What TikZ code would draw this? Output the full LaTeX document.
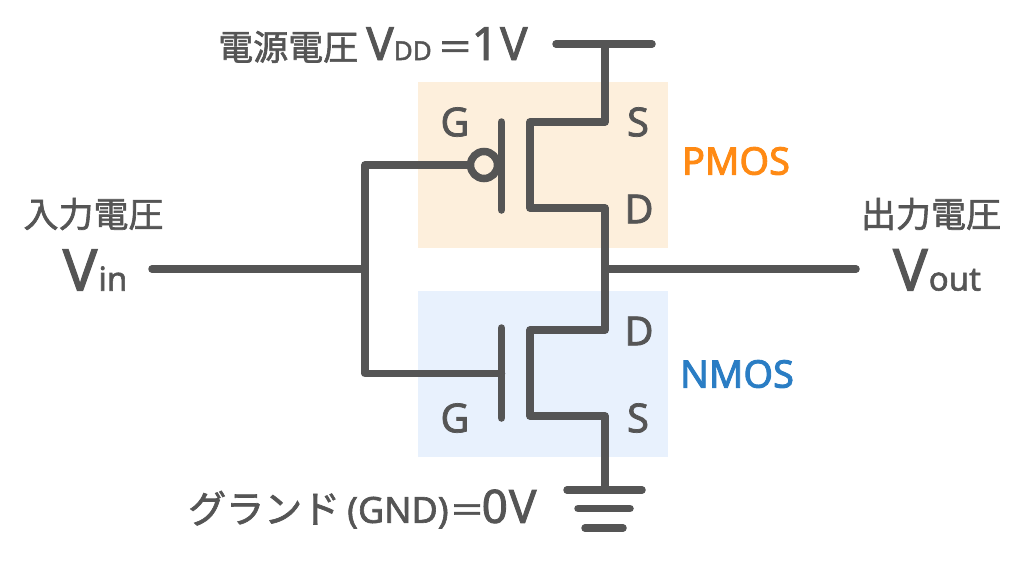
\documentclass[tikz,border=0pt]{standalone}
\usepackage{fontspec}
\setmainfont{Noto Sans}[FakeBold=1.8]
\newfontfamily\jpfont{Noto Sans CJK JP}[FakeBold=1.8]
\newfontfamily\kindfont{Noto Sans}[FakeBold=2.4]
\definecolor{ink}{HTML}{555555}
\definecolor{pmosfill}{HTML}{FDEFDC}
\definecolor{nmosfill}{HTML}{E8F1FD}
\definecolor{pmostext}{HTML}{FF8A14}
\definecolor{nmostext}{HTML}{2A7DC4}
\tikzset{
  wire/.style={draw=ink,line width=7.5pt,line cap=round,line join=round},
  band/.style={fill=#1,draw=none,minimum width=250pt,minimum height=166pt,inner sep=0pt},
  pin/.style={text=ink,font=\fontsize{40}{40}\selectfont,inner sep=0pt},
  caption/.style={text=ink,font=\jpfont\fontsize{35}{35}\selectfont,inner sep=0pt},
  bigv/.style={text=ink,font=\fontsize{58}{58}\selectfont,inner sep=0pt},
  kind/.style={font=\kindfont\fontsize{38}{38}\selectfont,inner sep=0pt}
}
\begin{document}
\begin{tikzpicture}[x=1pt,y=-1pt]
  \useasboundingbox (0,0) rectangle (1024,566);
  \node[band=pmosfill] (pbox) at (543,165) {};
  \node[band=nmosfill] (nbox) at (543,373.5) {};
  % rails
  \coordinate (vl) at (556,44);
  \coordinate (vr) at (652,44);
  \coordinate (vm) at (605,44);
  \coordinate (ps) at (605,122);
  \coordinate (pd) at (605,208);
  \coordinate (out) at (605,269);
  \coordinate (nd) at (605,330);
  \coordinate (ns) at (605,416);
  \coordinate (gm) at (605,490);
  \coordinate (pcs) at (530,122);
  \coordinate (pcd) at (530,208);
  \coordinate (ncd) at (530,330);
  \coordinate (ncs) at (530,416);
  \coordinate (pgt) at (501.5,122);
  \coordinate (pgb) at (501.5,210);
  \coordinate (ngt) at (501.5,328);
  \coordinate (ngb) at (501.5,418);
  \coordinate (in) at (152,269);
  \coordinate (inj) at (365,269);
  \coordinate (ptop) at (365,165);
  \coordinate (nbot) at (365,373.5);
  \coordinate (ngate) at (501.5,373.5);
  \coordinate (outend) at (856,269);
  \node[circle,draw=ink,line width=7.5pt,minimum size=27pt,inner sep=0pt] (bubble) at (484,165) {};
  % wires
  \draw[wire] (vl) -- (vr);
  \draw[wire] (vm) -- (ps) -- (pcs) -- (pcd) -- (pd) -- (nd) -- (ncd) -- (ncs) -- (ns) -- (gm);
  \draw[wire] (pgt) -- (pgb);
  \draw[wire] (ngt) -- (ngb);
  \draw[wire] (in) -- (inj);
  \draw[wire] (out) -- (outend);
  \draw[wire] (bubble.west) -- (ptop) -- (nbot) -- (ngate);
  % ground
  \coordinate (g1l) at (567,490);
  \coordinate (g1r) at (642,490);
  \coordinate (g2l) at (578,508.5);
  \coordinate (g2r) at (630,508.5);
  \coordinate (g3l) at (585,528);
  \coordinate (g3r) at (623,528);
  \draw[wire] (g1l) -- (g1r);
  \draw[wire] (g2l) -- (g2r);
  \draw[wire] (g3l) -- (g3r);
  % labels
  \node[pin] (pg) at (455,122) {G};
  \node[pin] (pss) at (638,122) {S};
  \node[pin] (pdd) at (639,209) {D};
  \node[pin] (nddd) at (639,331) {D};
  \node[pin] (ng) at (455,418) {G};
  \node[pin] (nss) at (638,418) {S};
  \node[kind,text=pmostext] (pname) at (736,161) {PMOS};
  \node[kind,text=nmostext] (nname) at (737,374) {NMOS};
  \node[caption] (incap) at (93.5,214) {入力電圧};
  \node[caption] (outcap) at (931,214) {出力電圧};
  \node[bigv] (vin) at (95,270) {V\kern1pt{\fontsize{33}{33}\selectfont in}};
  \node[bigv] (vout) at (937,270) {V\kern1pt{\fontsize{33}{33}\selectfont out}};
  \node[caption,anchor=west] (vdd) at (218,45) {電源電圧\kern8pt{\rmfamily\fontsize{46}{46}\selectfont V{\fontsize{26}{26}\selectfont DD}\kern6pt{\jpfont\fontsize{35}{35}\selectfont ＝}\kern-1pt 1\kern2pt V}};
  \node[caption,anchor=west] (gnd) at (188,509) {{\fontsize{38}{38}\selectfont グランド}\kern7pt{\rmfamily\fontsize{36}{36}\selectfont (GND)\kern1pt{\jpfont\fontsize{35}{35}\selectfont ＝}\kern-3pt\fontsize{46}{46}\selectfont 0\kern1pt V}};
\end{tikzpicture}
\end{document}
